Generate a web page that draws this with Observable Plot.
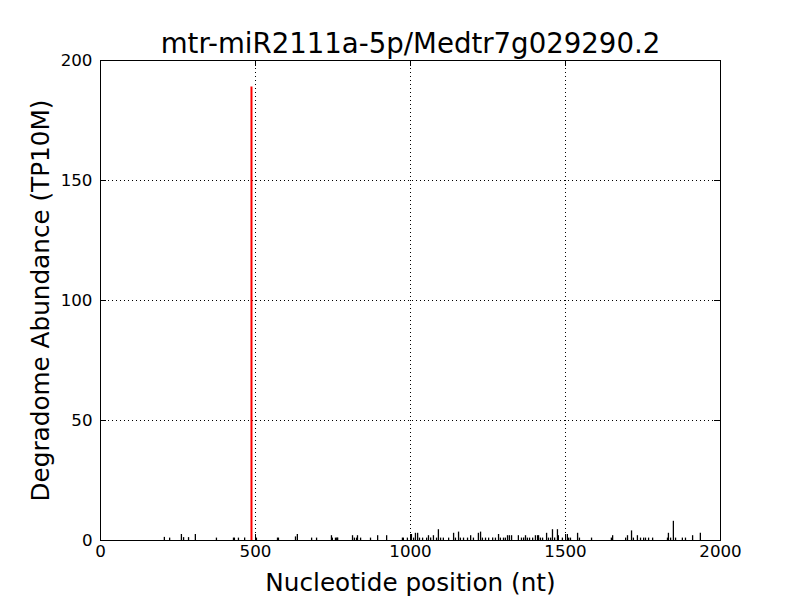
<!DOCTYPE html>
<html><head><meta charset="utf-8">
<script src="https://cdn.jsdelivr.net/npm/d3@7"></script>
<script src="https://cdn.jsdelivr.net/npm/@observablehq/plot@0.6"></script>
<style>body{margin:0;background:#fff;} #chart svg{display:block;}</style>
</head><body><div id="chart"></div>
<script>
const title = "mtr-miR2111a-5p/Medtr7g029290.2";
const xLabel = "Nucleotide position (nt)";
const yLabel = "Degradome Abundance (TP10M)";
const xTicks = [0, 500, 1000, 1500, 2000];
const yTicks = [0, 50, 100, 150, 200];
const xGrid = [500, 1000, 1500];
const yGrid = [50, 100, 150];

// background degradome reads (position in nt, abundance in TP10M)
const positions = [206,223,261,268,284,306,374,429,432,445,465,503,571,574,629,635,
  681,697,745,748,758,762,765,813,819,826,829,839,871,894,923,974,977,990,1003,1010,1016,1023,1029,1039,
  1052,1058,1065,1074,1084,1090,1097,1106,1123,1139,1145,1155,1161,1171,1184,1194,1203,1219,1226,1232,
  1242,1252,1265,1274,1284,1290,1300,1306,1313,1319,1326,1348,1358,1365,1371,1377,1384,1394,1403,1410,
  1413,1419,1426,1439,1445,1452,1458,1465,1474,1477,1490,1506,1510,1516,1539,1545,1584,1648,1652,1694,
  1700,1713,1719,1732,1742,1752,1758,1768,1781,1829,1832,1839,1848,1855,1877,1887,1910,1935];
const abundances = [1.3,1.0,2.5,1.2,1.2,2.5,1,1,1,1,1,1,1,1,1.5,2.5,
  1,1,2,1,1,1,1,2,1,1,2,1,1,2,2,1,1,1,2.5,1,3,3,1,1,
  1,2,1,2,1,4.5,1,1,1,3,1,3.5,1,1,1,2,1,3,3.5,1,
  1,1,1,1,2.5,1,1,1,2,2,2,2,1,1,2,1,1,1,2,2,
  2,1,1,3,1,1,4.5,1,4.5,2,1,2.5,1,1,3,1,1,1,2,1,
  2,4,1,2,1,1,1,1,1,1,3,1,8,1,1,1,2,3];
// miRNA target cleavage site
const targetPositions = [487];
const targetAbundances = [189];

const reads = positions.map((p, i) => ({pos: p, val: abundances[i]}));
const target = targetPositions.map((p, i) => ({pos: p, val: targetAbundances[i]}));

const font = "DejaVu Sans";
const plot = Plot.plot({
  width: 800, height: 600,
  marginLeft: 100, marginRight: 80, marginTop: 60, marginBottom: 60,
  style: {fontFamily: font, background: "white", color: "black"},
  x: {domain: [0, 2000], label: null},
  y: {domain: [0, 200], label: null},
  marks: [
    Plot.ruleX(xGrid, {x: d => d, stroke: "black", strokeWidth: 1, strokeDasharray: "1,3"}),
    Plot.ruleY(yGrid, {y: d => d, stroke: "black", strokeWidth: 1, strokeDasharray: "1,3"}),
    Plot.ruleX(reads, {x: "pos", y1: 0, y2: "val", stroke: "black", strokeWidth: 1.3}),
    Plot.ruleX(target, {x: "pos", y1: 0, y2: "val", stroke: "red", strokeWidth: 2}),
    Plot.tickX(xTicks, {x: d => d, insetTop: 474, stroke: "black"}),
    Plot.tickX(xTicks, {x: d => d, insetBottom: 474, stroke: "black"}),
    Plot.tickY(yTicks, {y: d => d, insetLeft: 614, stroke: "black"}),
    Plot.tickY(yTicks, {y: d => d, insetRight: 614, stroke: "black"}),
    Plot.frame({stroke: "black", strokeWidth: 1}),
    Plot.axisX(xTicks, {anchor: "bottom", tickSize: 0, tickPadding: 5, fontSize: 16.7, label: null, tickFormat: d => String(d)}),
    Plot.axisY(yTicks, {anchor: "left", tickSize: 0, tickPadding: 8, fontSize: 16.7, label: null, tickFormat: d => String(d)}),
    Plot.text([title], {frameAnchor: "top", lineAnchor: "bottom", dy: -8, fontSize: 27.6, fill: "black"}),
    Plot.text([xLabel], {frameAnchor: "bottom", lineAnchor: "bottom", dy: 50, fontSize: 24.7, fill: "black"}),
    Plot.text([yLabel], {frameAnchor: "left", textAnchor: "middle", lineAnchor: "bottom", rotate: -90, dx: -52, fontSize: 24.7, fill: "black"})
  ]
});
document.getElementById("chart").appendChild(plot);
</script>
</body></html>
